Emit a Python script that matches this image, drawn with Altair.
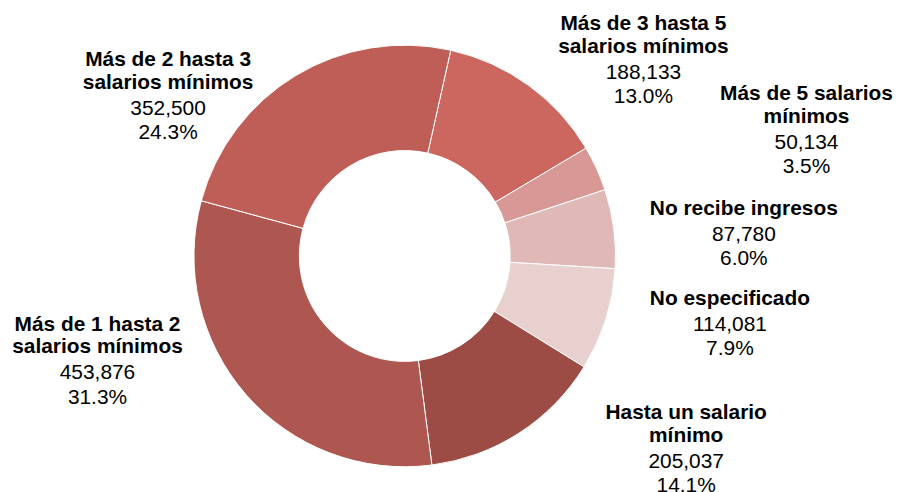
import math
import altair as alt
import pandas as pd

# ---- data ----
categories = [
    "Más de 3 hasta 5 salarios mínimos",
    "Más de 5 salarios mínimos",
    "No recibe ingresos",
    "No especificado",
    "Hasta un salario mínimo",
    "Más de 1 hasta 2 salarios mínimos",
    "Más de 2 hasta 3 salarios mínimos",
]
title_text = [
    "Más de 3 hasta 5\nsalarios mínimos",
    "Más de 5 salarios\nmínimos",
    "No recibe ingresos",
    "No especificado",
    "Hasta un salario\nmínimo",
    "Más de 1 hasta 2\nsalarios mínimos",
    "Más de 2 hasta 3\nsalarios mínimos",
]
values = [188133, 50134, 87780, 114081, 205037, 453876, 352500]

# ---- styles / layout ----
colors = ["#CC6760", "#D89895", "#E0B9B6", "#E8D0CF", "#9C4B45", "#AE5650", "#BF5E57"]
label_x = [639, 803, 740, 726, 682, 90, 161]
label_y = [21, 91, 207, 297, 412, 323, 57]
TITLE_LH = 23
GAP = 26
NUM_LH = 24.5
CX, CY = 399, 248
R_OUT, R_IN = 212, 106
START = math.radians(12.6)

total = sum(values)
rows = []
for i, (c, t, v) in enumerate(zip(categories, title_text, values)):
    n_lines = t.count("\n") + 1
    rows.append({
        "cat": c,
        "order": i,
        "value": v,
        "title": t,
        "nums": f"{v:,}\n{v / total * 100:.1f}%",
        "lx": label_x[i],
        "ty": label_y[i],
        "ny": label_y[i] + (n_lines - 1) * TITLE_LH + GAP,
    })
df = pd.DataFrame(rows)

base = alt.Chart(df)

arc = base.mark_arc(innerRadius=R_IN, outerRadius=R_OUT, stroke="white", strokeWidth=1).encode(
    theta=alt.Theta("value:Q", stack=True,
                    scale=alt.Scale(range=[START, START + 2 * math.pi])),
    order=alt.Order("order:Q"),
    color=alt.Color("cat:N", scale=alt.Scale(domain=categories, range=colors), legend=None),
    x=alt.value(CX),
    y=alt.value(CY),
)

titles = base.mark_text(
    font="Liberation Sans", fontSize=21, fontWeight="bold", lineBreak="\n",
    lineHeight=TITLE_LH, align="center", baseline="alphabetic", color="black",
).encode(
    x=alt.X("lx:Q", scale=None),
    y=alt.Y("ty:Q", scale=None),
    text="title:N",
)

nums = base.mark_text(
    font="Liberation Sans", fontSize=21, lineBreak="\n",
    lineHeight=NUM_LH, align="center", baseline="alphabetic", color="black",
).encode(
    x=alt.X("lx:Q", scale=None),
    y=alt.Y("ny:Q", scale=None),
    text="nums:N",
)

chart = alt.layer(arc, titles, nums).properties(
    width=890, height=484, autosize="none", padding=0
).configure_view(stroke=None)

chart.save("out.html", embed_options={"renderer": "svg", "actions": False})
